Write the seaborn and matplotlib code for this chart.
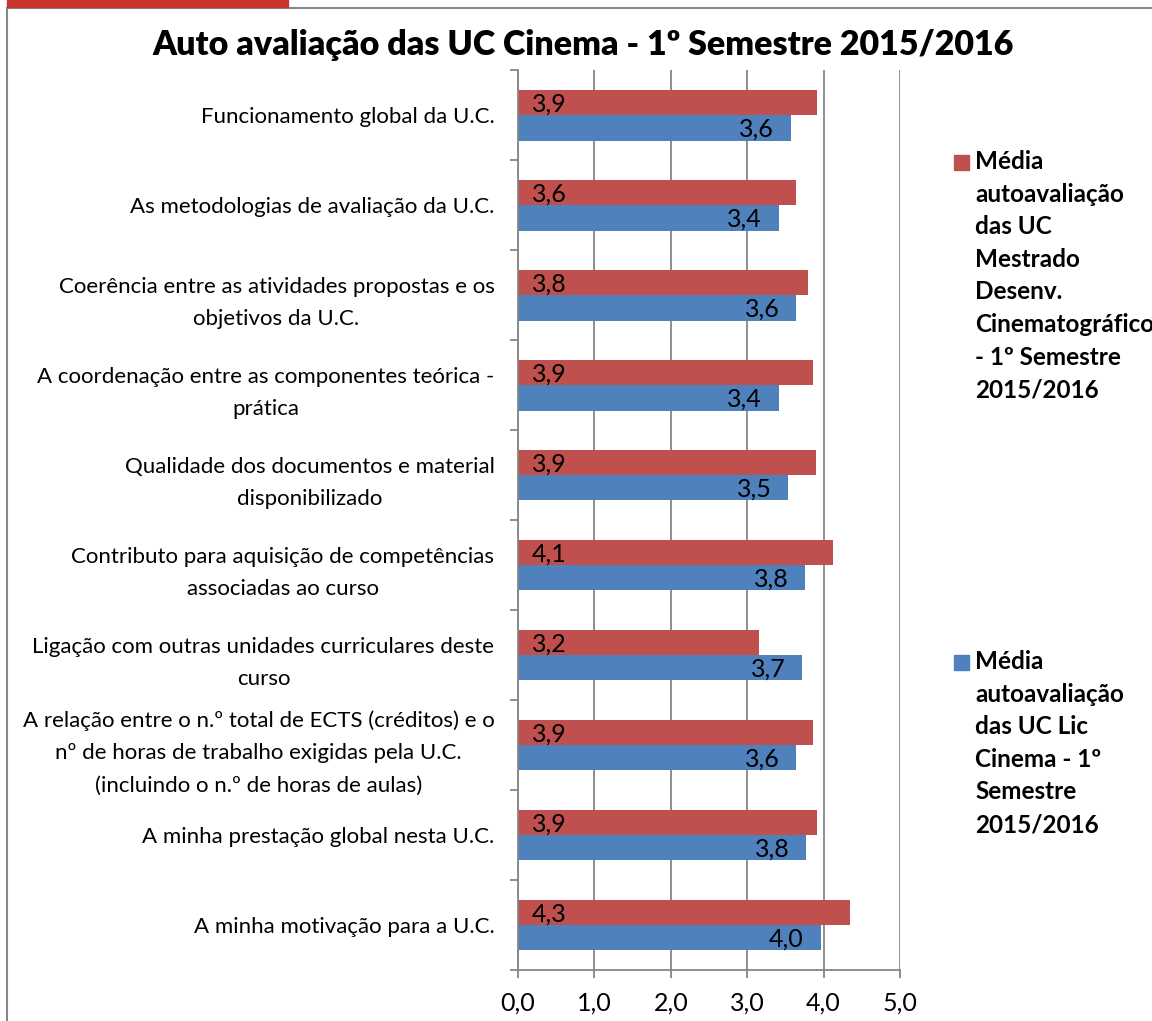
import numpy as np
import pandas as pd
import matplotlib
matplotlib.use("Agg")
import matplotlib.pyplot as plt
import seaborn as sns
from matplotlib.patches import Rectangle
from matplotlib.ticker import FuncFormatter

# dados
categorias = [
    "Funcionamento global da U.C.",
    "As metodologias de avaliação da U.C.",
    "Coerência entre as atividades propostas e os\nobjetivos da U.C.",
    "A coordenação entre as componentes teórica -\nprática",
    "Qualidade dos documentos e material\ndisponibilizado",
    "Contributo para aquisição de competências\nassociadas ao curso",
    "Ligação com outras unidades curriculares deste\ncurso",
    "A relação entre o n.º total de ECTS (créditos) e o\nnº de horas de trabalho exigidas pela U.C.\n(incluindo o n.º de horas de aulas)",
    "A minha prestação global nesta U.C.",
    "A minha motivação para a U.C.",
]
mestrado = [3.92, 3.64, 3.79, 3.86, 3.90, 4.12, 3.16, 3.86, 3.92, 4.34]
licenciatura = [3.57, 3.41, 3.64, 3.41, 3.54, 3.76, 3.72, 3.64, 3.77, 3.96]
series = ["Mestrado", "Licenciatura"]
legenda_mestrado = ["Média", "autoavaliação", "das UC", "Mestrado", "Desenv.",
                    "Cinematográfico", "- 1º Semestre", "2015/2016"]
legenda_lic = ["Média", "autoavaliação", "das UC Lic", "Cinema - 1º",
               "Semestre", "2015/2016"]
titulo = "Auto avaliação das UC Cinema - 1º Semestre 2015/2016"

vermelho = "#C0504D"
azul = "#4F81BD"
cinza = "#868686"

df = pd.DataFrame({
    "categoria": categorias * 2,
    "valor": mestrado + licenciatura,
    "serie": [series[0]] * len(categorias) + [series[1]] * len(categorias),
})

sns.set_style("white")
plt.rcParams['font.family'] = ['Lato', 'DejaVu Sans']
plt.rcParams['text.color'] = 'black'

W, H = 1152, 1021
fig = plt.figure(figsize=(W / 100, H / 100), dpi=100)
ax = fig.add_axes([518 / W, 1 - 970 / H, (900 - 518) / W, (970 - 70.5) / H])

sns.barplot(data=df, y="categoria", x="valor", hue="serie", hue_order=series,
            palette=[vermelho, azul], orient="h", width=0.56, saturation=1,
            legend=False, linewidth=0, ax=ax)

ax.set_xlim(0, 5)
ax.set_ylim(len(categorias) - 0.5, -0.5)
ax.set_xlabel("")
ax.set_ylabel("")
ax.set_xticks(np.arange(0, 6, 1))
ax.xaxis.set_major_formatter(FuncFormatter(lambda v, p: f"{v:.1f}".replace(".", ",")))
ax.grid(axis="x", color=cinza, linewidth=1.3)
ax.set_axisbelow(True)
for s in ["top", "right"]:
    ax.spines[s].set_visible(False)
for s in ["left", "bottom"]:
    ax.spines[s].set_color(cinza)
    ax.spines[s].set_linewidth(1.3)

ax.tick_params(axis="x", length=5.8, width=1.3, color=cinza, pad=10, labelsize=18,
               labelcolor="black", direction="out", bottom=True)
ax.set_yticks(np.arange(len(categorias)))
ax.set_yticklabels(categorias)
ax.set_yticks(np.arange(-0.5, len(categorias)), minor=True)
ax.tick_params(axis="y", which="major", length=0, pad=17, labelsize=16,
               labelcolor="black")
ax.tick_params(axis="y", which="minor", length=5.8, width=1.3, color=cinza,
               direction="out", left=True)
for lbl in ax.get_yticklabels():
    lbl.set_multialignment("center")
    lbl.set_linespacing(1.75)

fmt = lambda v: f"{v:.1f}".replace(".", ",")
# rótulos: vermelho na base, azul no fim da barra
for p, v in zip(ax.containers[0], mestrado):
    ax.annotate(fmt(v), xy=(p.get_x(), p.get_y() + p.get_height() / 2),
                xytext=(10, -1), textcoords="offset points",
                ha="left", va="center", fontsize=18)
for p, v in zip(ax.containers[1], licenciatura):
    ax.annotate(fmt(v), xy=(p.get_x() + p.get_width(), p.get_y() + p.get_height() / 2),
                xytext=(-12, -1), textcoords="offset points",
                ha="right", va="center", fontsize=18)

fig.text(583 / W, 1 - 45 / H, titulo, ha="center", va="center",
         fontsize=24.5, fontweight="heavy")

# legenda
for topo, linhas, cor in [(155, legenda_mestrado, vermelho), (655, legenda_lic, azul)]:
    fig.add_artist(Rectangle((954 / W, 1 - (topo + 15) / H), 15 / W, 15 / H,
                             color=cor, transform=fig.transFigure))
    for i, txt in enumerate(linhas):
        fig.text(975 / W, 1 - (topo + 14 + i * 32.6) / H, txt, ha="left",
                 va="baseline", fontsize=17.5, fontweight="bold")

# moldura e barra vermelha
fig.add_artist(Rectangle((7 / W, -0.05), 1.2, 1.05 - 8 / H, fill=False,
                         edgecolor="#878787", linewidth=1.5, transform=fig.transFigure))
fig.add_artist(Rectangle((7 / W, 1 - 7 / H), 281 / W, 7 / H, color="#C8342E",
                         transform=fig.transFigure))

fig.savefig("out.png", dpi=100)
